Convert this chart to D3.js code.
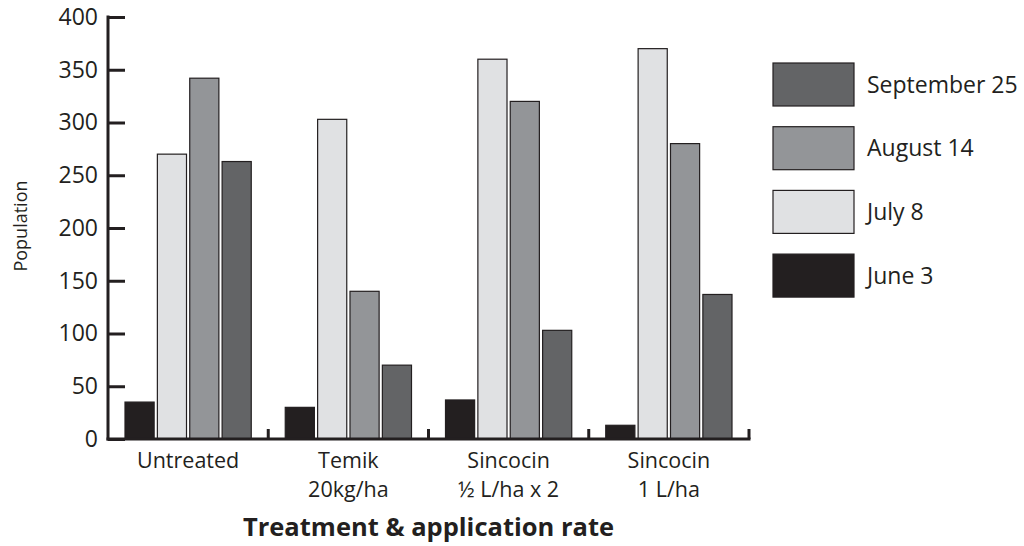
<!DOCTYPE html>
<html>
<head>
<meta charset="utf-8">
<script src="https://cdn.jsdelivr.net/npm/d3@7"></script>
<style>
  body { margin: 0; background: #fff; }
  text { font-family: "Open Sans", sans-serif; fill: #231f20; }
</style>
</head>
<body>
<div id="chart"></div>
<script>
var width = 1024,
    height = 546;

// Data
var treatments = [["Untreated"], ["Temik", "20kg/ha"], ["Sincocin", "\u00bd L/ha x 2"], ["Sincocin", "1 L/ha"]];
var dates = ["June 3", "July 8", "August 14", "September 25"];
var june3 = [35, 30, 37, 13];
var july8 = [270, 303, 360, 370];
var aug14 = [342, 140, 320, 280];
var sep25 = [263, 70, 103, 137];
var yTicks = [0, 50, 100, 150, 200, 250, 300, 350, 400];

var series = [june3, july8, aug14, sep25];
var colors = ["#231f20", "#e0e1e3", "#939598", "#636466"];

var margin = { left: 108, top: 17, right: 275, bottom: 107 };

var svg = d3.select("#chart")
    .append("svg")
    .attr("width", width)
    .attr("height", height);

var x = d3.scaleBand()
    .domain(d3.range(treatments.length))
    .range([margin.left, width - margin.right]);

var inner = d3.scaleBand()
    .domain(d3.range(dates.length))
    .range([17, x.bandwidth() - 17])
    .paddingInner(0.1);

var y = d3.scaleLinear()
    .domain([0, 400])
    .range([height - margin.bottom, margin.top]);

// bars
var groups = svg.selectAll("g.group")
    .data(treatments)
    .enter()
    .append("g")
    .attr("class", "group")
    .attr("transform", function (d, i) { return "translate(" + x(i) + ",0)"; });

groups.selectAll("rect")
    .data(function (d, i) {
        return series.map(function (s, j) { return { k: j, v: s[i] }; });
    })
    .enter()
    .append("rect")
    .attr("x", function (d) { return inner(d.k); })
    .attr("width", inner.bandwidth())
    .attr("y", function (d) { return y(d.v); })
    .attr("height", function (d) { return y(0) - y(d.v); })
    .attr("fill", function (d) { return colors[d.k]; })
    .attr("stroke", "#231f20")
    .attr("stroke-width", 1.2);

// y axis
var yAxis = svg.append("g")
    .attr("transform", "translate(" + margin.left + ",0)")
    .call(d3.axisRight(y).tickValues(yTicks).tickSize(17).tickFormat(d3.format("d")));

yAxis.select(".domain").remove();
yAxis.selectAll(".tick line").attr("stroke", "#231f20").attr("stroke-width", 3);
yAxis.selectAll(".tick text")
    .attr("x", -10)
    .attr("text-anchor", "end")
    .attr("font-size", 23)
    .attr("fill", "#231f20");

svg.append("line")
    .attr("x1", margin.left).attr("x2", margin.left)
    .attr("y1", margin.top - 1.5).attr("y2", y(0) + 1.5)
    .attr("stroke", "#231f20").attr("stroke-width", 3);

// x axis
svg.append("line")
    .attr("x1", margin.left - 1.5).attr("x2", width - margin.right + 1.5)
    .attr("y1", y(0)).attr("y2", y(0))
    .attr("stroke", "#231f20").attr("stroke-width", 3);

svg.selectAll("line.xtick")
    .data(d3.range(1, treatments.length + 1))
    .enter()
    .append("line")
    .attr("class", "xtick")
    .attr("x1", function (d) { return d === treatments.length ? x(d - 1) + x.bandwidth() : x(d); })
    .attr("x2", function (d) { return d === treatments.length ? x(d - 1) + x.bandwidth() : x(d); })
    .attr("y1", y(0))
    .attr("y2", y(0) - 10)
    .attr("stroke", "#231f20").attr("stroke-width", 3);

var xLabels = svg.selectAll("text.xlabel")
    .data(treatments)
    .enter()
    .append("text")
    .attr("class", "xlabel")
    .attr("text-anchor", "middle")
    .attr("font-size", 21.5)
    .attr("transform", function (d, i) { return "translate(" + (x(i) + x.bandwidth() / 2) + "," + (y(0) + 28.5) + ")"; });

xLabels.selectAll("tspan")
    .data(function (d) { return d; })
    .enter()
    .append("tspan")
    .attr("x", 0)
    .attr("dy", function (d, i) { return i === 0 ? 0 : 29.5; })
    .text(function (d) { return d; });

svg.append("text")
    .attr("x", (margin.left + width - margin.right) / 2)
    .attr("y", 536)
    .attr("text-anchor", "middle")
    .attr("font-size", 25.5)
    .attr("font-weight", "bold")
    .text("Treatment & application rate");

svg.append("text")
    .attr("transform", "translate(27,226) rotate(-90)")
    .attr("text-anchor", "middle")
    .attr("font-size", 18)
    .text("Population");

// legend, last date on top
var legend = svg.selectAll("g.legend")
    .data(dates.slice().reverse())
    .enter()
    .append("g")
    .attr("class", "legend")
    .attr("transform", function (d, i) { return "translate(773," + (63 + i * 63.7) + ")"; });

legend.append("rect")
    .attr("width", 81)
    .attr("height", 43)
    .attr("fill", function (d) { return colors[dates.indexOf(d)]; })
    .attr("stroke", "#231f20")
    .attr("stroke-width", 1.2);

legend.append("text")
    .attr("x", 94)
    .attr("y", 21.5)
    .attr("dy", "0.35em")
    .attr("font-size", 23)
    .text(function (d) { return d; });
</script>
</body>
</html>
